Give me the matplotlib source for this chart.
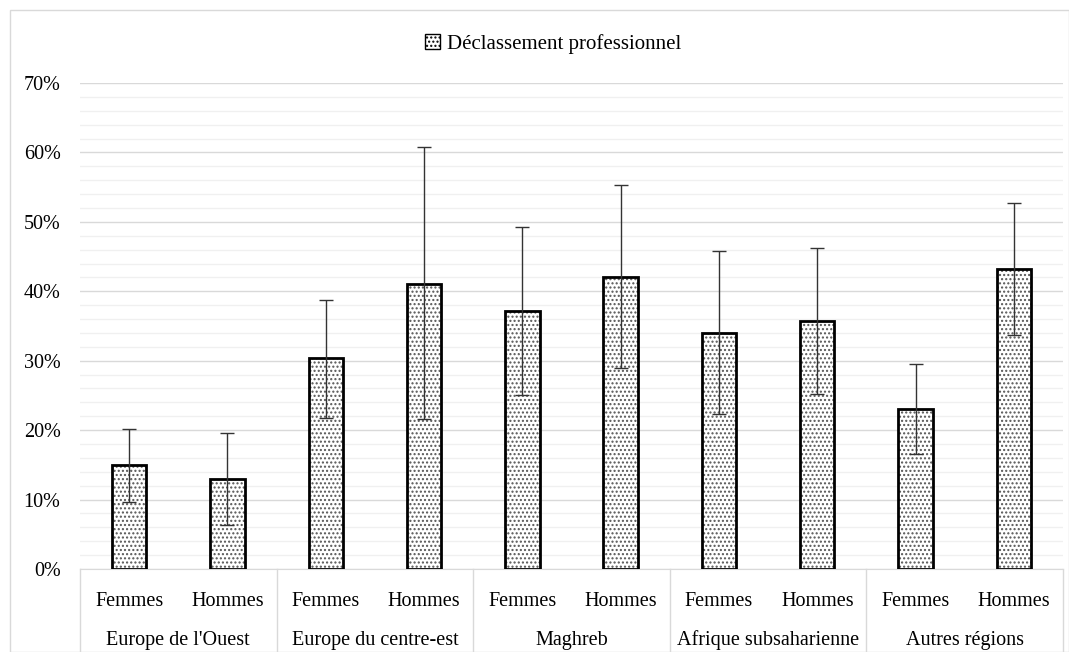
import matplotlib
matplotlib.use("Agg")
import matplotlib.pyplot as plt
from matplotlib.patches import Patch, Rectangle
import numpy as np

plt.rcParams['font.family'] = ['Liberation Serif', 'DejaVu Serif']
plt.rcParams['hatch.linewidth'] = 1.0

regions = ["Europe de l'Ouest", "Europe du centre-est", "Maghreb", "Afrique subsaharienne", "Autres régions"]
sexes = ["Femmes", "Hommes"]
values = [15.0, 13.0, 30.4, 41.1, 37.1, 42.0, 34.0, 35.7, 23.0, 43.2]
err_low = [9.7, 6.3, 21.8, 21.6, 25.0, 28.9, 22.3, 25.2, 16.5, 33.7]
err_high = [20.1, 19.6, 38.8, 60.8, 49.3, 55.3, 45.8, 46.2, 29.5, 52.7]
legend_label = "Déclassement professionnel"

fig = plt.figure(figsize=(10.69, 6.52), dpi=100)
fig.patches.append(Rectangle((10/1069, 0), 1 - 10/1069 - 0.5/1069, 1 - 10/652, transform=fig.transFigure,
                             fill=False, edgecolor='#d9d9d9', linewidth=1.0))
ax = fig.add_axes([80/1069, 1 - 569/652, (1063 - 80)/1069, (569 - 83)/652])

n = len(values)
x = np.arange(n)
vals = np.array(values)
yerr = np.vstack([vals - np.array(err_low), np.array(err_high) - vals])

ax.bar(x, vals, width=0.35, color='white', edgecolor='#555555', hatch='....', linewidth=0, zorder=2)
ax.bar(x, vals, width=0.35, fill=False, edgecolor='black', linewidth=2, zorder=3)
ax.errorbar(x, vals, yerr=yerr, fmt='none', ecolor='#333333', elinewidth=1.0, capsize=5, capthick=1.0, zorder=4)

fs = 14.5
ax.set_xlim(-0.5, n - 0.5)
ax.set_ylim(0, 70)
ax.set_yticks(np.arange(0, 71, 10))
ax.set_yticklabels([f"{v}%" for v in range(0, 71, 10)], fontsize=fs)
ax.set_yticks(np.arange(0, 71, 2), minor=True)
ax.grid(axis='y', which='major', color='#d9d9d9', linewidth=1.0, zorder=0)
ax.grid(axis='y', which='minor', color='#f0f0f0', linewidth=1.0, zorder=0)
ax.tick_params(axis='y', which='both', length=0, pad=14)
ax.tick_params(axis='x', which='both', length=0)
ax.set_xticks([])
for s in ['top', 'right', 'left']:
    ax.spines[s].set_visible(False)
ax.spines['bottom'].set_color('#d9d9d9')
ax.set_axisbelow(True)

# two-level category labels
trans = ax.get_xaxis_transform()
for i in range(n):
    ax.text(x[i], -32/486, sexes[i % 2], transform=trans, ha='center', va='center', fontsize=fs)
for g, name in enumerate(regions):
    ax.text(2 * g + 0.5, -71/486, name, transform=trans, ha='center', va='center', fontsize=fs)
for b in range(len(regions) + 1):
    ax.plot([2 * b - 0.5, 2 * b - 0.5], [0, -83/486], transform=trans, color='#d9d9d9',
            linewidth=1.0, clip_on=False)

handle = Patch(facecolor='white', edgecolor='black', hatch='....', linewidth=1.0)
fig.legend([handle], [legend_label], loc='center', bbox_to_anchor=(553/1069, 1 - 44/652),
           frameon=False, fontsize=15, handlelength=0.7, handleheight=0.7, handletextpad=0.35)

fig.savefig("out.png", dpi=100)
